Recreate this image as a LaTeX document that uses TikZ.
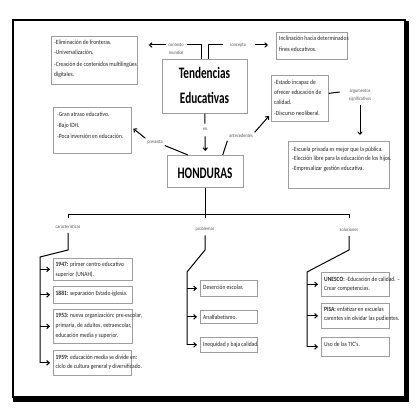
\documentclass[tikz,border=0pt]{standalone}
\usepackage{fontspec}
\setmainfont{Carlito}[FakeStretch=0.7]
\newfontfamily\boxfont{Carlito}[FakeStretch=0.86]
\usetikzlibrary{arrows.meta,calc}
\begin{document}
\begin{tikzpicture}[x=1pt,y=-1pt,
  box/.style={draw=black!38, line width=0.7pt, rectangle, inner sep=0pt, anchor=north west},
  txt/.style={inner sep=0pt, align=left, text=black!85, anchor=north west, yshift=5pt,
    font=\boxfont\fontsize{6.4}{10}\selectfont, execute at begin node={\rule{0pt}{5pt}}},
  big/.style={inner sep=0pt, align=center, text=black, anchor=north, yshift=12pt,
    font=\bfseries\fontsize{16}{25}\selectfont, execute at begin node={\rule{0pt}{12pt}}},
  lab/.style={inner sep=1pt, align=center, text=black!65, font=\boxfont\fontsize{5}{8}\selectfont},
  conn/.style={draw=black, line width=1pt},
  arr/.style={conn, -{Straight Barb[length=2.6pt,width=4.6pt]}}]
\useasboundingbox (0,0) rectangle (419,419);
\fill[white] (0,0) rectangle (419,419);
% frame
\draw[line width=1.5pt] (13,20) rectangle (405,397);
\fill[black] (404,21) rectangle (409,402);
\fill[black] (13,396) rectangle (409,402);
% boxes
\node[box, minimum width=85pt, minimum height=54pt] (T) at (162,59) {};
\node[big] (Tt) at (204.5,79) {Tendencias\\Educativas};
\node[box, minimum width=76pt, minimum height=32pt] (Hn) at (167,155) {};
\node[big] (Ht) at (205,178) {HONDURAS};
\node[box, minimum width=86pt, minimum height=48pt] (A) at (51,36) {};
\node[txt] (At) at (54,44.8) {-Eliminación de fronteras.\\-Universalización.\\[2.5pt]-Creación de contenidos multilingües\\digitales.};
\node[box, minimum width=71pt, minimum height=27pt] (B) at (276,32) {};
\node[txt] (Bt) at (279,40.8) {Inclinación hacia determinados\\[0.7pt]fines educativos.};
\node[box, minimum width=78pt, minimum height=46pt] (C) at (53,107) {};
\node[txt] (Ct) at (57,116.5) {-Gran atraso educativo.\\[1pt]-Bajo IDH.\\[1pt]-Poca inversión en educación.};
\node[box, minimum width=57pt, minimum height=46pt] (D) at (271,75) {};
\node[txt] (Dt) at (274,84.5) {-Estado incapaz de\\ofrecer educación de\\[0.6pt]calidad.\\[0.6pt]-Discurso neoliberal.};
\node[box, minimum width=101pt, minimum height=47pt] (E) at (288,141) {};
\node[txt] (Et) at (292,151.5) {-Escuela privada es mejor que la pública.\\[-0.5pt]-Elección libre para la educación de los hijos.\\[-0.5pt]-Empresalizar gestión educativa.};
% left column
\node[box, minimum width=79pt, minimum height=22pt] (F1) at (53,258) {};
\node[txt] (F1t) at (55.5,267.2) {\textbf{1947:} primer  centro educativo\\[-0.7pt]superior (UNAH).};
\node[box, minimum width=79pt, minimum height=17pt] (F2) at (53,286) {};
\node[txt] (F2t) at (55.5,294.8) {\textbf{1881:} separación Estado-iglesia.};
\node[box, minimum width=79pt, minimum height=34pt] (F3) at (53,309) {};
\node[txt] (F3t) at (55.5,318.2) {\textbf{1953:} nueva organización: pre-escolar,\\primaria, de adultos, extraescolar,\\educación  media y superior.};
\node[box, minimum width=78pt, minimum height=25pt] (F4) at (53,350) {};
\node[txt] (F4t) at (55.5,359.8) {\textbf{1959:} educación media se divide en:\\[-0.6pt]ciclo de cultura general y diversificado.};
% middle column
\node[box, minimum width=57pt, minimum height=16pt] (G1) at (200,280) {};
\node[txt] (G1t) at (203,288.8) {Deserción escolar.};
\node[box, minimum width=57pt, minimum height=13pt] (G2) at (200,310) {};
\node[txt] (G2t) at (203,318.8) {Analfabetismo.};
\node[box, minimum width=57pt, minimum height=15pt] (G3) at (200,337) {};
\node[txt] (G3t) at (203,345.8) {Inequidad y baja calidad.};
% right column
\node[box, minimum width=68pt, minimum height=24pt] (H1) at (321,272) {};
\node[txt] (H1t) at (324,281.5) {\textbf{UNESCO:} -Educación de calidad. –\\[-0.7pt]Crear competencias.};
\node[box, minimum width=68pt, minimum height=25pt] (H2) at (321,303) {};
\node[txt] (H2t) at (324,311.5) {\textbf{PISA:} enfatizar en escuelas\\[-0.7pt]carentes sin olvidar las pudientes.};
\node[box, minimum width=68pt, minimum height=19pt] (H3) at (321,337) {};
\node[txt] (H3t) at (324,346.5) {Uso de las TIC's.};
% labels
\node[lab] (cm) at (176,49) {contexto\\mundial};
\node[lab] (cp) at (238,45) {concepto};
\node[lab] (en) at (205,129) {en};
\node[lab] (pr) at (155,142) {presenta};
\node[lab] (an) at (241,136) {antecedentes};
\node[lab] (ag) at (360,95) {argumentos\\significativos};
\node[lab] (ca) at (68,227) {características};
\node[lab] (pb) at (205,229) {problemas};
\node[lab] (so) at (349,230) {soluciones};
% upper connectors
\draw[conn, shorten >=2pt] ([xshift=-3.5pt]T.north) |- ([yshift=4pt]cm.east);
\draw[arr, shorten >=11pt, shorten <=1pt] ([yshift=4pt]cm.west) -- ([yshift=4pt]cm.west -| A.east);
\draw[conn, shorten >=6pt] ([xshift=3.5pt]T.north) |- (cp.west);
\draw[arr, shorten >=8pt, shorten <=8pt] (cp.east) -- (cp.east -| B.west);
\draw[conn, shorten >=3pt] (T.south) -- (en.north);
\draw[arr, shorten <=5pt, shorten >=4pt] (en.south) -- (Hn.north);
\draw[conn, shorten >=1pt] ([xshift=21pt]Hn.north west) -- (pr.south east);
\draw[arr, shorten <=1pt, shorten >=2pt] (pr.north west) -- ([yshift=3pt]C.east);
\draw[conn, shorten >=2pt] ([xshift=-21pt]Hn.north east) -- (an.south west);
\draw[arr, shorten <=1pt, shorten >=3pt] (an.north east) -- ([yshift=8pt]D.south west);
\draw[conn, shorten >=8pt] ([yshift=5pt]D.east) -- ([yshift=4pt]ag.west);
\draw[arr, shorten <=3pt, shorten >=6pt] (ag.south) -- (E.north -| ag.south);
% tree
\coordinate (hl) at (0,214);
\coordinate (tk) at (0,218);
\coordinate (b1) at (0,250);
\coordinate (cL) at (40,257);
\coordinate (cM) at (187,272);
\coordinate (cR) at (307,272);
\draw[conn] (ca.north |- tk) -- (ca.north |- hl) -- (so.north |- hl) -- (so.north |- tk);
\draw[conn] (Hn.south) -- (Hn.south |- tk);
\draw[conn, shorten <=3pt] (ca.south) -- (ca.south |- b1) -- (cL) -- (cL |- F4.west);
\draw[conn, shorten <=3pt] (pb.south) -- (pb.south |- b1) -- (cM) -- (cM |- G3.west);
\draw[conn, shorten <=3pt] (so.south) -- (so.south |- b1) -- (cR) -- (cR |- H3.west);
\foreach \n in {F1,F2,F3,F4} \draw[arr, shorten >=3pt] (cL |- \n.west) -- (\n.west);
\foreach \n in {G1,G2,G3} \draw[arr, shorten >=3pt] (cM |- \n.west) -- (\n.west);
\foreach \n in {H1,H2,H3} \draw[arr, shorten >=3pt] (cR |- \n.west) -- (\n.west);
\end{tikzpicture}
\end{document}
